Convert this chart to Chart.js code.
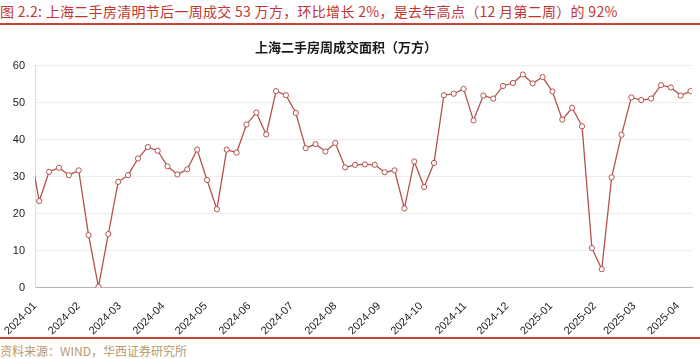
<!DOCTYPE html>
<html>
<head>
<meta charset="utf-8">
<script src="https://cdn.jsdelivr.net/npm/chart.js@4.4.1/dist/chart.umd.min.js"></script>
<style>
  body { margin: 0; width: 700px; height: 359px; background: #fff; position: relative; overflow: hidden; }
  #head { position: absolute; left: 0; top: 1px; font: 14px "Noto Sans CJK SC", sans-serif; letter-spacing: 0.3px; color: #c23531; white-space: nowrap; }
  #headLine { position: absolute; left: 0; top: 23px; width: 700px; height: 2px; background: #c9463d; }
  #box { position: absolute; left: 0; top: 28px; width: 700px; height: 308px; }
  #footLine { position: absolute; left: 0; top: 337px; width: 700px; height: 2px; background: #c9463d; }
  #src { position: absolute; left: 0; top: 342px; font: 12px "Noto Sans CJK SC", sans-serif; color: #b8996b; white-space: nowrap; }
</style>
</head>
<body>
<div id="head">图 2.2: 上海二手房清明节后一周成交 53 万方，环比增长 2%，是去年高点（12 月第二周）的 92%</div>
<div id="headLine"></div>
<div id="box"><canvas id="areaChart"></canvas></div>
<div id="footLine"></div>
<div id="src">资料来源：WIND，华西证券研究所</div>
<script>
// weekly data, dated on Thursdays; first week sits just before the axis start and is clipped
const FIRST_WEEK = '2023-12-28';
const AXIS_START = '2024-01-01';
const AXIS_END = '2025-04-11';

const weeklyArea = [
    38.1,
    23.4, 31.3, 32.4, 30.4, 31.7, 14.2, 0.2, 14.5, 28.6, 30.4, 34.9,
    38.0, 37.0, 32.8, 30.6, 32.0, 37.3, 29.1, 21.2, 37.3, 36.5, 44.1, 47.3,
    41.4, 53.1, 52.0, 47.2, 37.7, 38.8, 36.8, 39.1, 32.5, 33.2, 33.3,
    33.2, 31.2, 31.7, 21.4, 34.1, 27.2, 33.7, 52.0, 52.4, 53.7, 45.2,
    51.9, 51.1, 54.5, 55.3, 57.6, 55.2, 56.9, 53.0, 45.4, 48.6, 43.6, 10.7,
    5.0, 29.8, 41.3, 51.4, 50.7, 51.1, 54.7, 54.1, 51.9, 53.1
];

const monthTicks = ['2024-01-01', '2024-02-01', '2024-03-01', '2024-04-01', '2024-05-01', '2024-06-01',
    '2024-07-01', '2024-08-01', '2024-09-01', '2024-10-01', '2024-11-01', '2024-12-01',
    '2025-01-01', '2025-02-01', '2025-03-01', '2025-04-01'];
const monthLabels = ['2024-01', '2024-02', '2024-03', '2024-04', '2024-05', '2024-06',
    '2024-07', '2024-08', '2024-09', '2024-10', '2024-11', '2024-12',
    '2025-01', '2025-02', '2025-03', '2025-04'];

const yTicks = [0, 10, 20, 30, 40, 50, 60];
const LINE_COLOR = '#b5524b';

function dayNum(str){
    const [y, m, d] = str.split('-').map(Number);
    return (Date.UTC(y, m - 1, d) - Date.UTC(2024, 0, 1)) / 86400000;
}

function buildPoints(){
    const start = dayNum(FIRST_WEEK);
    return weeklyArea.map((v, i) => ({x: start + i * 7, y: v}));
}

const tickFont = {family: '"Liberation Sans", Arial, sans-serif', size: 11};

new Chart(document.getElementById('areaChart'), {
    type: 'line',
    data: {
        datasets: [{
            label: '上海二手房周成交面积',
            data: buildPoints(),
            borderColor: LINE_COLOR,
            borderWidth: 1.3,
            backgroundColor: '#ffffff',
            pointBackgroundColor: '#ffffff',
            pointBorderColor: LINE_COLOR,
            pointBorderWidth: 1,
            pointRadius: 2.6,
            tension: 0
        }]
    },
    options: {
        responsive: true,
        maintainAspectRatio: false,
        animation: false,
        layout: {padding: {left: 0, right: 8, top: 0, bottom: 0}},
        plugins: {
            legend: {display: false},
            tooltip: {enabled: false},
            title: {
                display: true,
                text: '上海二手房周成交面积（万方）',
                color: '#1a1a1a',
                font: {family: '"Noto Sans CJK SC", sans-serif', size: 13, weight: 'bold'},
                padding: {top: 11, bottom: 11}
            }
        },
        scales: {
            x: {
                type: 'linear',
                min: dayNum(AXIS_START),
                max: dayNum(AXIS_END),
                afterBuildTicks: function(scale){
                    scale.ticks = monthTicks.map(t => ({value: dayNum(t)}));
                },
                afterFit: function(scale){ scale.height = 48.3; },
                grid: {display: false},
                border: {display: true, color: '#b4b4b4', width: 1},
                ticks: {
                    autoSkip: false,
                    minRotation: 45,
                    maxRotation: 45,
                    padding: 4,
                    color: '#222',
                    font: tickFont,
                    callback: (value, index) => monthLabels[index]
                }
            },
            y: {
                min: 0,
                max: 60,
                afterBuildTicks: function(scale){
                    scale.ticks = yTicks.map(v => ({value: v}));
                },
                afterFit: function(scale){ scale.width = 35; },
                grid: {color: '#ededed', drawTicks: false},
                border: {display: true, color: '#dcdcdc'},
                ticks: {padding: 10, color: '#222', font: tickFont}
            }
        }
    }
});
</script>
</body>
</html>
